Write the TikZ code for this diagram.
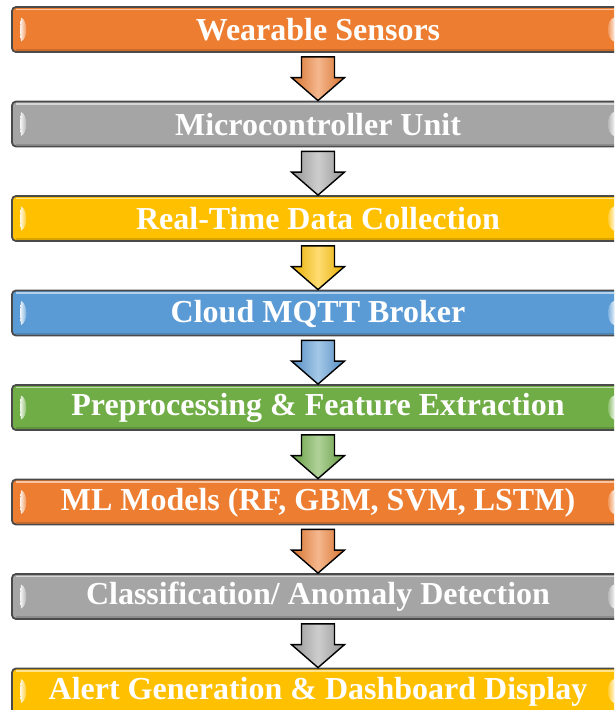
\documentclass[tikz,border=0pt]{standalone}
\usepackage{fontspec}
\setmainfont{Liberation Serif}
\usetikzlibrary{calc}
\definecolor{cOrange}{HTML}{ED7D31}
\definecolor{cGray}{HTML}{A5A5A5}
\definecolor{cGold}{HTML}{FFC000}
\definecolor{cBlue}{HTML}{5B9BD5}
\definecolor{cGreen}{HTML}{70AD47}
\definecolor{cEdge}{HTML}{4A4A4A}
\tikzset{
  stagebox/.style={draw=cEdge, line width=1.8pt, rounded corners=4pt,
    minimum width=612pt, minimum height=45pt, inner sep=0pt},
  stagetext/.style={text=white, font=\fontsize{32}{36}\selectfont\bfseries, inner sep=0pt},
  flowarrow/.style={draw=black, line width=1.4pt, line join=miter},
}
\begin{document}
\begin{tikzpicture}[x=1pt,y=-1pt]
\useasboundingbox (0,0) rectangle (614,710);
\clip (0,0) rectangle (614,710);
\foreach \i/\col/\txt in {
  1/cOrange/{Wearable Sensors},
  2/cGray/{Microcontroller Unit},
  3/cGold/{Real-Time Data Collection},
  4/cBlue/{Cloud MQTT Broker},
  5/cGreen/{Preprocessing \& Feature Extraction},
  6/cOrange/{ML Models (RF, GBM, SVM, LSTM)},
  7/cGray/{Classification/ Anomaly Detection},
  8/cGold/{Alert Generation \& Dashboard Display}}{
  \node[stagebox, fill=\col] (b\i) at (318,{29.5+94.5*(\i-1)}) {};
  % glossy stripes
  \draw[\col!45!white, line width=1.6pt] ($(b\i.north west)+(5,3.5)$) -- ($(b\i.north east)+(-5,3.5)$);
  \draw[\col!75!black, line width=1.2pt, opacity=0.6] ($(b\i.south west)+(5,-3)$) -- ($(b\i.south east)+(-5,-3)$);
  % end highlights
  \shade[left color=\col!10!white, right color=\col]
    ($(b\i.west)+(10,-12)$) .. controls ($(b\i.west)+(9,-4)$) and ($(b\i.west)+(9,4)$) .. ($(b\i.west)+(10,12)$)
    .. controls ($(b\i.west)+(17,9)$) and ($(b\i.west)+(17,-9)$) .. cycle;
  \shade[right color=\col!10!white, left color=\col]
    ($(b\i.east)+(-11,-12)$) .. controls ($(b\i.east)+(-10,-4)$) and ($(b\i.east)+(-10,4)$) .. ($(b\i.east)+(-11,12)$)
    .. controls ($(b\i.east)+(-19,9)$) and ($(b\i.east)+(-19,-9)$) .. cycle;
  \node[stagetext] (t\i) at ($(b\i.center)+(0,0.5)$) {\txt};
}
\foreach \a/\b/\col in {1/2/cOrange,2/3/cGray,3/4/cGold,4/5/cBlue,5/6/cGreen,6/7/cOrange,7/8/cGray}{
  \shade[left color=\col!90!black, right color=\col!90!black, middle color=\col!55!white]
    ($(b\a.south)+(-16.5,4)$) -- ($(b\a.south)+(16.5,4)$) -- ($(b\b.north)+(16.5,-23)$)
    -- ($(b\b.north)+(26.5,-23)$) -- (b\b.north) -- ($(b\b.north)+(-26.5,-23)$)
    -- ($(b\b.north)+(-16.5,-23)$) -- cycle;
  \draw[flowarrow]
    ($(b\a.south)+(-16.5,4)$) -- ($(b\a.south)+(16.5,4)$) -- ($(b\b.north)+(16.5,-23)$)
    -- ($(b\b.north)+(26.5,-23)$) -- (b\b.north) -- ($(b\b.north)+(-26.5,-23)$)
    -- ($(b\b.north)+(-16.5,-23)$) -- cycle;
}
\end{tikzpicture}
\end{document}
